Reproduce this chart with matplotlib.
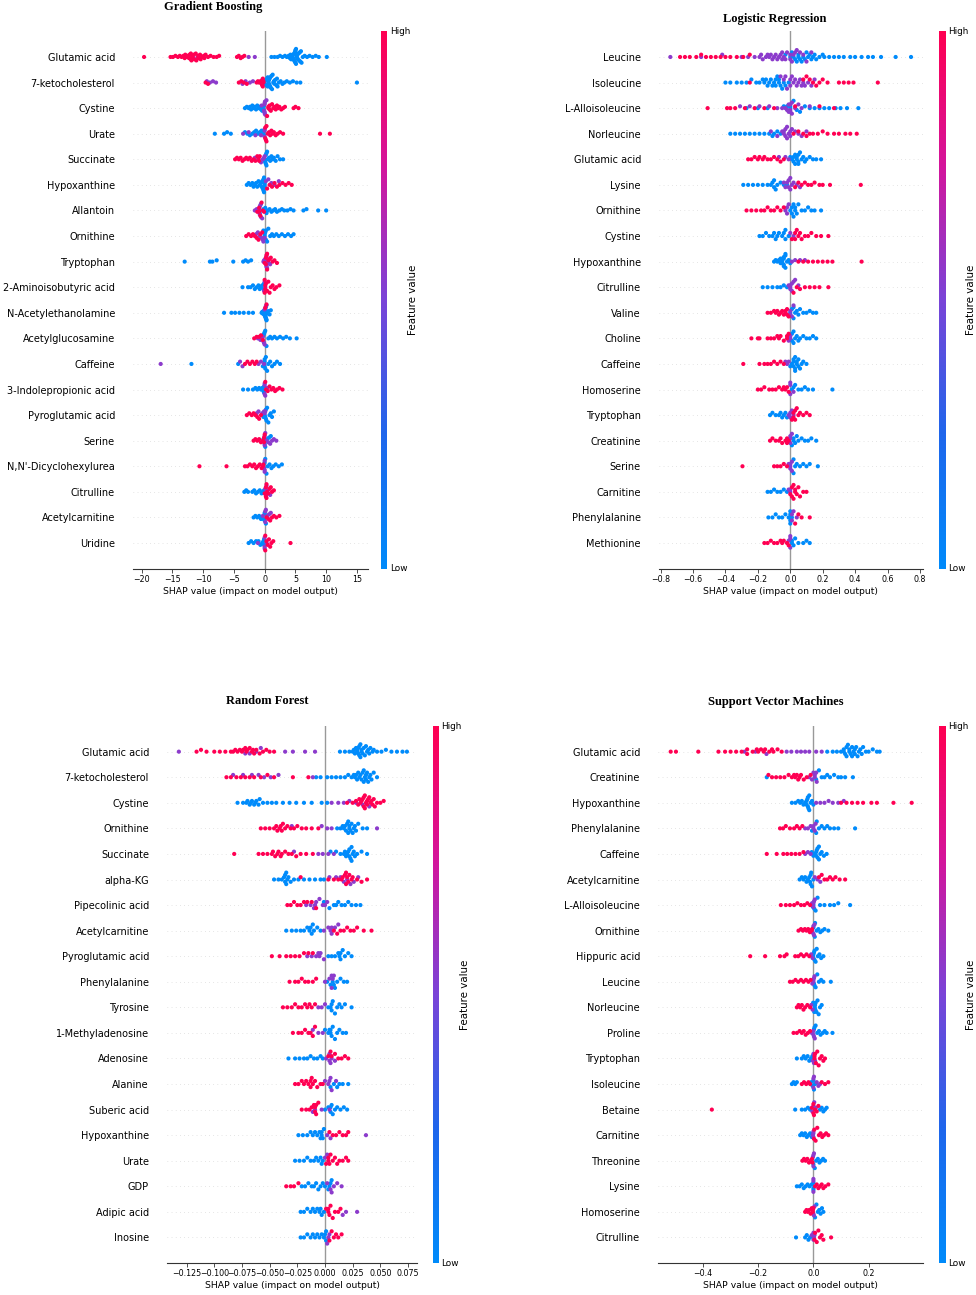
import numpy as np
import matplotlib.pyplot as plt
from matplotlib.colors import LinearSegmentedColormap

# ---------------- Gradient Boosting ----------------
gb_features = ["Glutamic acid", "7-ketocholesterol", "Cystine", "Urate", "Succinate",
               "Hypoxanthine", "Allantoin", "Ornithine", "Tryptophan", "2-Aminoisobutyric acid",
               "N-Acetylethanolamine", "Acetylglucosamine", "Caffeine", "3-Indolepropionic acid",
               "Pyroglutamic acid", "Serine", "N,N'-Dicyclohexylurea", "Citrulline",
               "Acetylcarnitine", "Uridine"]
gb_high = [
    [-19.6, -15.3, -14.9, -14.5, -14.1, -13.8, -13.5, -13.2, -12.9, -12.6, -12.3, -12.0, -11.7, -11.4,
     -11.1, -10.8, -10.5, -10.2, -9.9, -9.6, -9.2, -8.8, -8.3, -7.8, -7.4, -4.5, -4.2, -3.9, -3.6, -3.3,
     -12.0, -11.8, -11.5, -10.8, -13.0, -12.5, -12.2, -11.9, -11.2, -10.4, -9.8],
    [-9.6, -9.2, -4.2, -3.8, -3.4, -2.9, -1.3, -1.1, -0.9, -0.7, -0.5, -0.3, -0.2, -0.4, -0.3, -0.2],
    [0.4, 0.6, 0.8, 1.0, 1.2, 1.4, 1.6, 1.8, 2.0, 2.2, 2.4, 2.7, 3.0, 3.3, 4.7, 5.0, 5.5, 0.6, 0.8],
    [0.1, 0.3, 0.5, 0.7, 0.9, 1.1, 1.3, 1.5, 1.8, 2.1, 2.5, 3.0, 9.0, 10.6, 0.1, 0.2, 0.3],
    [-4.8, -4.5, -4.2, -3.9, -3.6, -3.3, -3.0, -2.7, -2.4, -2.1, -1.8, -1.5, -1.2, -0.9, -1.0, -0.8],
    [0.4, 0.8, 1.2, 1.6, 2.0, 2.4, 2.9, 3.4, 3.9, 4.4],
    [-1.2, -0.9, -0.7, -0.5, -0.3, -0.1, -0.9],
    [-3.0, -2.6, -2.2, -1.9, -1.6, -1.3, -1.0, -0.7, -0.4],
    [0.0, 0.2, 0.4, 0.6, 0.8, 1.0, 1.3, 1.6, 2.0, 0.2, 0.3, 0.4],
    [0.0, 0.2, 0.4, 0.6, 0.8, 1.0, 1.3, 1.6, 1.9, 2.4, 0.0, 0.1, 0.1],
    [0.1, 0.3],
    [-1.7, -1.3, -0.9, -0.6, -0.3],
    [-3.2, -2.8, -2.4, -2.0, -1.6, -1.3],
    [0.2, 0.5, 0.8, 1.1, 1.4, 1.7, 2.0, 2.4, 2.9, 0.1],
    [-2.9, -2.5, -2.1, -1.8, -1.5, -1.2, -0.9, -0.6],
    [-1.8, -1.5, -1.2, -0.9, -0.6, -0.3, -0.1, -0.1, 0.0],
    [-10.6, -6.2, -3.2, -2.8, -2.4, -2.0, -1.7, -1.4, -1.1, -0.8, -0.5, -0.3, -0.2],
    [0.0, 0.2, 0.4, 0.6, 0.8, 1.0, 1.2, 1.5, 0.2, 0.3, 0.3],
    [0.3, 0.6, 0.9, 1.2, 1.5, 1.9, 2.4],
    [0.1, 0.3, 0.5, 0.7, 0.9, 1.1, 1.4, 4.2, 0.1],
]
gb_mid = [
    [-11.6, -10.9, -2.6, -1.6],
    [-9.4, -8.9, -8.4, -7.9, -3.6, -3.1, -2.4, -1.9, -0.4],
    [-0.5, -0.1, 0.0, 0.1, 0.3, 0.0, 0.0, 0.0, 0.05],
    [-3.5, -2.6, -1.5, -0.6, 0.0, 0.0, 0.0],
    [-1.6, -1.0, -0.6, -0.3, -0.1, 0.0],
    [0.2, 0.6, 1.1, 1.6, 2.3],
    [-1.6, -1.3, -1.0, -0.8, -0.6, -0.4, -0.9, -0.8, -0.7],
    [-1.4, -1.1, -0.8, -0.5, -0.3, -0.2, 0.0],
    [-0.2, -0.1, 0.1, 0.3, 0.5, 0.7, 0.9, 0.3, 0.3, 0.4],
    [-0.1, 0.1, 0.0],
    [0.0, 0.2],
    [-1.1, -0.7, -0.4, -0.1, 0.0, -0.2, -0.3],
    [-16.9, -4.0, -3.6, -1.0, -0.6, -0.1],
    [0.0, 0.1, 0.4, 0.0, 0.0],
    [-1.3, -1.0, -0.4, -0.1, 0.0, 0.1],
    [0.0, 0.3, 0.6, 0.9, 1.2, 1.5, 1.9, 0.0, 0.1],
    [-0.1, 0.0, 0.0, 0.0],
    [0.1, 0.3, 0.5, 0.9, 0.2],
    [-0.3, 0.1, 0.4, 0.7, 1.0, 0.1, 0.2],
    [-1.1, 0.0, 0.3, 0.0, 0.0],
]
gb_low = [
    [1.1, 1.6, 2.1, 2.5, 2.9, 3.3, 3.6, 3.9, 4.1, 4.3, 4.5, 4.6, 4.7, 4.8, 4.9, 5.0, 5.1, 5.2, 5.3,
     5.4, 5.5, 5.7, 5.9, 6.2, 6.5, 6.9, 7.3, 7.8, 8.3, 8.8, 10.1, 4.8, 4.9, 5.0, 5.0, 5.1, 5.2,
     4.2, 4.4, 4.6, 5.3, 5.6, 5.8, 6.0],
    [0.0, 0.2, 0.3, 0.5, 0.6, 0.8, 0.9, 1.1, 1.2, 1.4, 1.5, 1.7, 1.9, 2.1, 2.3, 2.6, 2.9, 3.2, 3.6,
     4.1, 4.6, 5.2, 5.8, 15.0, 0.5, 0.6, 0.7, 0.8, 1.0, 0.4, 0.7, 0.9, 1.3, 1.6, 2.0],
    [-3.2, -2.9, -2.6, -2.4, -2.2, -2.0, -1.8, -1.6, -1.4, -1.2, -1.0, -0.8, -0.6, -0.4, -0.3, -0.2,
     -0.3, -0.1],
    [-8.1, -6.6, -6.1, -5.5, -3.2, -2.8, -2.4, -2.0, -1.7, -1.4, -1.1, -0.8, -0.5, -0.3, -0.1, -0.2],
    [0.0, 0.2, 0.3, 0.5, 0.7, 0.9, 1.1, 1.3, 1.5, 1.8, 2.1, 2.5, 3.0, 0.1, 0.2, 0.3, 0.4],
    [-2.9, -2.6, -2.3, -2.0, -1.8, -1.6, -1.4, -1.2, -1.0, -0.8, -0.6, -0.5, -0.3, -0.2, -0.1, 0.0,
     -0.1, 0.0, 0.0, -0.2, -0.4],
    [-0.2, 0.1, 0.3, 0.5, 0.8, 1.1, 1.4, 1.7, 2.0, 2.4, 2.8, 3.2, 3.7, 4.2, 4.7, 6.3, 6.8, 8.7, 10.0,
     -0.8, -0.6],
    [-0.2, 0.0, 0.2, 0.4, 0.6, 0.9, 1.2, 1.5, 1.9, 2.3, 2.8, 3.3, 3.8, 4.3, 4.7, 0.0, 0.1, 0.2],
    [-13.0, -8.9, -8.5, -7.8, -5.1, -3.5, -3.1, -2.7, -2.2],
    [-3.6, -2.7, -2.3, -1.9, -1.6, -1.3, -1.0, -0.8, -0.6, -0.4, -0.2, -0.1],
    [-6.6, -5.4, -4.8, -4.1, -3.4, -2.6, -1.9, -0.5, -0.4, -0.3, -0.2, -0.1, 0.0, 0.0, 0.1, 0.1,
     0.2, 0.3, 0.4, 0.5, 0.6, 0.8, 1.0, 0.1, 0.2, 0.3, 0.3, 0.4, 0.2],
    [-0.2, 0.1, 0.3, 0.6, 0.9, 1.2, 1.6, 2.0, 2.5, 3.0, 3.5, 4.1, 5.2, -0.1, 0.0],
    [-11.9, -4.3, -0.3, 0.0, 0.2, 0.4, 0.6, 0.9, 1.2, 1.6, 2.0, 2.5, 0.0, 0.0, 0.1],
    [-3.5, -2.7, -1.9, -1.5, -1.2, -0.9, -0.6, -0.4, -0.2, -0.1, -0.1],
    [-0.2, 0.0, 0.2, 0.4, 0.6, 0.8, 1.0, 1.2, 1.5, 0.1, 0.2, 0.3],
    [-0.2, 0.1, 0.4, 0.7, 1.0, 0.0],
    [0.1, 0.3, 0.5, 0.8, 1.1, 1.4, 1.8, 2.3, 2.8, 0.0],
    [-3.3, -3.0, -2.7, -2.0, -1.7, -1.4, -1.1, -0.8, -0.5, -0.3, -0.1],
    [-1.8, -1.5, -1.2, -0.9, -0.6, -0.4, -0.2, 0.0, 0.2, 0.0, 0.0],
    [-2.6, -2.2, -1.8, -1.4, -1.0, -0.7, -0.4, -0.2, -0.1, -0.1],
]
gb_ticks = [-20, -15, -10, -5, 0, 5, 10, 15]

# ---------------- Logistic Regression ----------------
lr_features = ["Leucine", "Isoleucine", "L-Alloisoleucine", "Norleucine", "Glutamic acid",
               "Lysine", "Ornithine", "Cystine", "Hypoxanthine", "Citrulline", "Valine",
               "Choline", "Caffeine", "Homoserine", "Tryptophan", "Creatinine", "Serine",
               "Carnitine", "Phenylalanine", "Methionine"]
lr_high = [
    [-0.68, -0.65, -0.62, -0.58, -0.55, -0.52, -0.49, -0.46, -0.43, -0.40, -0.37, -0.33, -0.29, -0.25],
    [-0.25, 0.08, 0.10, 0.12, 0.14, 0.16, 0.18, 0.20, 0.23, 0.30, 0.33, 0.36, 0.39, 0.54],
    [-0.51, -0.39, -0.37, -0.34, -0.28, -0.22, -0.16, -0.10, 0.03, 0.18, 0.27],
    [0.02, 0.05, 0.08, 0.10, 0.12, 0.14, 0.17, 0.20, 0.23, 0.27, 0.30, 0.34, 0.37, 0.41],
    [-0.26, -0.24, -0.22, -0.20, -0.19, -0.17, -0.16, -0.14, -0.12, -0.10, -0.08, -0.06, -0.04],
    [0.03, 0.05, 0.07, 0.09, 0.11, 0.13, 0.15, 0.18, 0.20, 0.245, 0.435],
    [-0.27, -0.24, -0.21, -0.18, -0.16, -0.14, -0.12, -0.10, -0.08, -0.06, -0.04],
    [0.01, 0.03, 0.05, 0.06, 0.07, 0.09, 0.11, 0.13, 0.16, 0.19, 0.235, 0.03, 0.04],
    [0.05, 0.08, 0.11, 0.14, 0.17, 0.20, 0.23, 0.26, 0.44],
    [0.02, 0.04, 0.06, 0.09, 0.12, 0.15, 0.18, 0.235],
    [-0.14, -0.12, -0.10, -0.09, -0.08, -0.07, -0.06, -0.05, -0.04, -0.03, -0.02, -0.01, -0.03, -0.02],
    [-0.24, -0.20, -0.19, -0.14, -0.12, -0.10, -0.08, -0.07, -0.06, -0.04, -0.02, -0.02, -0.01],
    [-0.29, -0.19, -0.16, -0.14, -0.12, -0.10, -0.08, -0.06, -0.04],
    [-0.20, -0.18, -0.16, -0.13, -0.11, -0.09, -0.07, -0.05, -0.04, -0.03, -0.01, -0.02],
    [0.01, 0.02, 0.03, 0.04, 0.05, 0.06, 0.08, 0.10, 0.12, 0.02, 0.03],
    [-0.125, -0.11, -0.09, -0.07, -0.06, -0.05, -0.03, -0.02, -0.01, -0.02],
    [-0.295, -0.10, -0.08, -0.06, -0.04, -0.02],
    [0.0, 0.01, 0.02, 0.03, 0.04, 0.05, 0.06, 0.08, 0.10, 0.01, 0.02, 0.03],
    [0.03, 0.05, 0.07, 0.12],
    [-0.16, -0.14, -0.12, -0.10, -0.08, -0.06, -0.05, -0.04, -0.02, -0.01],
]
lr_mid = [
    [-0.74, -0.55, -0.42, -0.30, -0.26, -0.22, -0.19, -0.17, -0.15, -0.13, -0.11, -0.09, -0.07,
     -0.05, -0.04, -0.02, 0.0, 0.02, 0.04, 0.06, 0.08, 0.10, 0.13, -0.10, -0.08, -0.05, -0.03, 0.0, 0.01,
     -0.18, -0.14, -0.12, -0.06, 0.03],
    [-0.06, -0.04, -0.02, 0.0, 0.01, 0.03, 0.05, 0.07, 0.09, 0.11, 0.13, 0.15, 0.0, 0.02, 0.04,
     -0.03, 0.06, 0.08],
    [-0.31, -0.25, -0.19, -0.13, -0.08, -0.05, -0.03, -0.02, -0.01, 0.0, 0.01, 0.03, 0.05, 0.07, 0.12,
     0.0, 0.0, -0.01, 0.01],
    [-0.12, -0.08, -0.05, -0.04, -0.03, -0.02, -0.01, 0.0, 0.01, 0.03, 0.05, 0.07, 0.10,
     -0.04, -0.03, -0.02, 0.0],
    [-0.07, -0.03, -0.01],
    [-0.04, -0.02, -0.01, 0.0, 0.01, 0.02, 0.04, 0.06, -0.03, -0.01, 0.0],
    [-0.03, -0.02, -0.01, -0.02],
    [0.0, 0.02],
    [0.01, 0.03, 0.06, 0.09],
    [-0.01, 0.0, 0.01, 0.02, 0.03, 0.05, 0.0, 0.01, 0.0],
    [0.0, 0.01, 0.02, 0.0],
    [-0.01, 0.0, 0.0],
    [-0.03, -0.02, -0.01],
    [0.0, 0.02, 0.0, 0.0],
    [-0.01, 0.0, 0.02, 0.01, 0.0],
    [0.0, 0.01, 0.0, 0.0],
    [-0.01, 0.0, 0.01, 0.0, 0.0, 0.01],
    [-0.01, 0.0, 0.0],
    [0.01, 0.02, 0.04, 0.01],
    [-0.01, 0.0, 0.0, 0.0],
]
lr_low = [
    [-0.03, 0.01, 0.03, 0.05, 0.06, 0.08, 0.09, 0.11, 0.12, 0.14, 0.16, 0.18, 0.21, 0.24, 0.27,
     0.30, 0.33, 0.37, 0.40, 0.44, 0.48, 0.51, 0.56, 0.65, 0.745, 0.05, 0.07, 0.10,
     0.0, 0.02, 0.04, 0.13, 0.15, 0.20],
    [-0.40, -0.37, -0.33, -0.30, -0.27, -0.24, -0.21, -0.19, -0.17, -0.16, -0.15, -0.14, -0.13,
     -0.11, -0.09, -0.07, -0.05, -0.03, -0.01, -0.10, -0.09, -0.08, -0.07, -0.12, -0.06, -0.04],
    [-0.27, -0.20, -0.14, -0.04, -0.02, 0.0, 0.02, 0.04, 0.06, 0.09, 0.12, 0.15, 0.18, 0.21, 0.24,
     0.28, 0.31, 0.35, 0.42, 0.0],
    [-0.37, -0.34, -0.31, -0.28, -0.25, -0.22, -0.19, -0.16, -0.13, -0.11, -0.10, -0.08, -0.06],
    [0.0, 0.01, 0.02, 0.02, 0.03, 0.04, 0.05, 0.05, 0.06, 0.07, 0.08, 0.09, 0.10, 0.12, 0.14, 0.16, 0.19,
     0.03, 0.04, 0.05],
    [-0.29, -0.26, -0.23, -0.20, -0.17, -0.14, -0.12, -0.11, -0.10, -0.09, -0.08, -0.06, -0.04, -0.02,
     -0.10],
    [0.0, 0.01, 0.02, 0.03, 0.04, 0.05, 0.07, 0.09, 0.11, 0.13, 0.15, 0.19, 0.01, 0.02, 0.03],
    [-0.19, -0.17, -0.15, -0.13, -0.11, -0.10, -0.09, -0.08, -0.07, -0.05, -0.03, -0.01, -0.04, -0.03],
    [-0.10, -0.09, -0.08, -0.07, -0.06, -0.06, -0.05, -0.05, -0.04, -0.04, -0.03, -0.03, -0.02,
     -0.01, 0.0, -0.05, -0.04, -0.03, -0.04],
    [-0.17, -0.14, -0.11, -0.08, -0.06, -0.04, -0.02],
    [0.0, 0.01, 0.02, 0.03, 0.04, 0.05, 0.06, 0.08, 0.10, 0.12, 0.14, 0.16, 0.02],
    [0.01, 0.02, 0.03, 0.04, 0.05, 0.06, 0.08, 0.10, 0.12, 0.14, 0.16, 0.01, 0.02],
    [0.0, 0.01, 0.02, 0.02, 0.03, 0.03, 0.04, 0.05, 0.06, 0.07, 0.08, 0.10, 0.02, 0.03, 0.04, 0.05],
    [0.01, 0.03, 0.05, 0.07, 0.09, 0.11, 0.14, 0.26, 0.02],
    [-0.125, -0.11, -0.09, -0.07, -0.06, -0.05, -0.04, -0.03, -0.02],
    [0.01, 0.02, 0.03, 0.04, 0.05, 0.07, 0.09, 0.11, 0.13, 0.16, 0.02],
    [0.02, 0.03, 0.04, 0.06, 0.08, 0.10, 0.12, 0.17, 0.02],
    [-0.14, -0.12, -0.10, -0.08, -0.06, -0.04, -0.02],
    [-0.135, -0.11, -0.09, -0.07, -0.05, -0.03, -0.01, 0.0, 0.0, 0.01, 0.0, 0.0],
    [0.01, 0.02, 0.03, 0.05, 0.08, 0.10, 0.12, 0.01],
]
lr_ticks = [-0.8, -0.6, -0.4, -0.2, 0.0, 0.2, 0.4, 0.6, 0.8]

# ---------------- Random Forest ----------------
rf_features = ["Glutamic acid", "7-ketocholesterol", "Cystine", "Ornithine", "Succinate",
               "alpha-KG", "Pipecolinic acid", "Acetylcarnitine", "Pyroglutamic acid",
               "Phenylalanine", "Tyrosine", "1-Methyladenosine", "Adenosine", "Alanine",
               "Suberic acid", "Hypoxanthine", "Urate", "GDP", "Adipic acid", "Inosine"]
rf_high = [
    [-0.116, -0.112, -0.107, -0.100, -0.095, -0.090, -0.085, -0.081, -0.077, -0.074, -0.071, -0.068,
     -0.065, -0.062, -0.059, -0.056, -0.053, -0.050, -0.046, -0.072, -0.066,
     -0.083, -0.079, -0.075, -0.070, -0.064],
    [-0.089, -0.085, -0.080, -0.076, -0.072, -0.068, -0.064, -0.058, -0.052, -0.046, -0.029, -0.015],
    [0.020, 0.025, 0.028, 0.031, 0.033, 0.035, 0.036, 0.038, 0.040, 0.042, 0.044, 0.047, 0.050, 0.053,
     0.034, 0.035, 0.037, 0.036, 0.038, 0.030, 0.032, 0.039, 0.041, 0.043, 0.045],
    [-0.058, -0.054, -0.050, -0.046, -0.043, -0.040, -0.038, -0.036, -0.034, -0.031, -0.028, -0.025,
     -0.021, -0.017, -0.012, -0.006, -0.044, -0.041, -0.039],
    [-0.082, -0.060, -0.056, -0.052, -0.048, -0.045, -0.042, -0.039, -0.036, -0.033, -0.030, -0.026,
     -0.022, -0.017, -0.011, -0.047, -0.043, -0.040],
    [-0.022, 0.003, 0.008, 0.012, 0.016, 0.019, 0.022, 0.025, 0.029, 0.033, 0.038, 0.019, 0.020,
     0.015, 0.018, 0.021, 0.024],
    [-0.034, -0.031, -0.028, -0.025, -0.022, -0.019, -0.016, -0.012, -0.008],
    [0.008, 0.011, 0.014, 0.017, 0.020, 0.023, 0.026, 0.029, 0.035, 0.042],
    [-0.048, -0.041, -0.035, -0.031, -0.027, -0.023, -0.019, -0.015, -0.011],
    [-0.032, -0.027, -0.024, -0.021, -0.018, -0.015, -0.011, -0.008],
    [-0.038, -0.034, -0.030, -0.027, -0.024, -0.021, -0.018, -0.016, -0.014, -0.012, -0.009],
    [-0.029, -0.024, -0.021, -0.018, -0.015, -0.013, -0.011, -0.009],
    [0.003, 0.006, 0.009, 0.012, 0.015, 0.018, 0.021, 0.005],
    [-0.027, -0.024, -0.021, -0.019, -0.017, -0.015, -0.013, -0.011, -0.009, -0.007, -0.004, -0.002,
     -0.013, -0.012],
    [-0.021, -0.017, -0.014, -0.012, -0.010, -0.009, -0.008, -0.006, -0.009, -0.008],
    [0.004, 0.007, 0.010, 0.013, 0.016, 0.019, 0.021],
    [0.001, 0.003, 0.005, 0.007, 0.009, 0.011, 0.013, 0.016, 0.019, 0.021, 0.003, 0.004],
    [-0.035, -0.031, -0.028, -0.024],
    [0.001, 0.003, 0.005, 0.007, 0.009, 0.012, 0.014, 0.003, 0.004],
    [0.004, 0.006, 0.008, 0.010, 0.012, 0.015],
]
rf_mid = [
    [-0.132, -0.072, -0.068, -0.062, -0.058, -0.036, -0.029, -0.018, -0.009],
    [-0.083, -0.074, -0.066, -0.060, -0.055, -0.049, -0.042, -0.011],
    [0.006, 0.012, 0.017, 0.022, 0.028, 0.034, 0.040],
    [-0.030, -0.003, 0.002, 0.006, 0.047],
    [-0.028, -0.006, -0.002, 0.003, 0.008],
    [0.004, 0.010, 0.014, 0.017, 0.020, 0.023, 0.026, 0.030],
    [-0.017, -0.013, -0.009, -0.005, -0.002, 0.002, -0.010, -0.008, 0.000],
    [-0.001, 0.003, 0.006, 0.009, 0.012, 0.005, 0.006],
    [-0.016, -0.012, -0.008, -0.004, -0.001, -0.006, -0.005],
    [0.000, 0.004, 0.006, 0.008, 0.006, 0.007],
    [-0.006, -0.003, 0.000],
    [-0.011, -0.006, -0.002],
    [0.001, 0.004, 0.006, 0.009, 0.004, 0.005],
    [0.000, 0.003, 0.006, 0.010, 0.004, 0.005],
    [-0.011, -0.009, -0.003, 0.004],
    [0.002, 0.005, 0.037],
    [0.000, 0.002],
    [0.002, 0.005, 0.008, 0.011, 0.015, 0.006],
    [0.016, 0.019, 0.029],
    [0.002, 0.004, 0.003],
]
rf_low = [
    [0.0135, 0.018, 0.022, 0.025, 0.027, 0.028, 0.029, 0.030, 0.031, 0.032, 0.033, 0.035, 0.037,
     0.039, 0.041, 0.044, 0.047, 0.051, 0.055, 0.060, 0.065, 0.070, 0.074,
     0.031, 0.032, 0.033, 0.034, 0.030, 0.026, 0.029, 0.036, 0.038, 0.040, 0.043],
    [-0.008, -0.004, 0.002, 0.006, 0.010, 0.014, 0.018, 0.021, 0.024, 0.027, 0.029, 0.031, 0.032,
     0.033, 0.035, 0.037, 0.039, 0.041, 0.044, 0.047, 0.035, 0.036, 0.037, 0.038, 0.034,
     0.026, 0.028, 0.030, 0.040, 0.042],
    [-0.079, -0.074, -0.071, -0.068, -0.066, -0.064, -0.062, -0.059, -0.056, -0.052, -0.048, -0.044,
     -0.038, -0.032, -0.026, -0.019, -0.012, -0.003, 0.002, -0.070, -0.067, -0.063, -0.060],
    [0.011, 0.014, 0.017, 0.019, 0.021, 0.022, 0.023, 0.025, 0.027, 0.030, 0.034, 0.038,
     0.020, 0.021, 0.022, 0.024, 0.016, 0.018, 0.026, 0.028],
    [0.005, 0.010, 0.014, 0.017, 0.019, 0.020, 0.022, 0.024, 0.026, 0.029, 0.033, 0.038,
     0.021, 0.022, 0.023, 0.024, 0.018, 0.025, 0.027],
    [-0.046, -0.042, -0.039, -0.037, -0.036, -0.035, -0.033, -0.031, -0.028, -0.024, -0.019, -0.014,
     -0.009, -0.004, -0.001, -0.036, -0.035, -0.034],
    [-0.001, 0.004, 0.008, 0.012, 0.015, 0.018, 0.021, 0.024, 0.028, 0.032, 0.010],
    [-0.035, -0.030, -0.026, -0.022, -0.019, -0.016, -0.014, -0.013, -0.010, -0.007, -0.004,
     -0.012, -0.011],
    [0.003, 0.006, 0.009, 0.012, 0.014, 0.016, 0.018, 0.021, 0.024, 0.013, 0.014],
    [0.002, 0.005, 0.007, 0.009, 0.011, 0.014, 0.017, 0.020, 0.008],
    [0.003, 0.006, 0.009, 0.011, 0.013, 0.015, 0.018, 0.024, 0.005, 0.006, 0.007],
    [0.000, 0.003, 0.005, 0.007, 0.009, 0.011, 0.013, 0.016, 0.019, 0.004, 0.005, 0.006],
    [-0.033, -0.027, -0.023, -0.019, -0.016, -0.013, -0.010, -0.007, -0.004, -0.002],
    [0.005, 0.008, 0.011, 0.013, 0.016, 0.021],
    [0.000, 0.003, 0.005, 0.007, 0.009, 0.011, 0.014, 0.017, 0.020, 0.005, 0.006],
    [-0.024, -0.020, -0.016, -0.013, -0.011, -0.009, -0.007, -0.005, -0.003, -0.001,
     -0.004, -0.003, -0.002],
    [-0.027, -0.023, -0.019, -0.016, -0.013, -0.010, -0.008, -0.006, -0.004, -0.002, -0.003],
    [-0.021, -0.018, -0.015, -0.012, -0.010, -0.008, -0.006, -0.004, -0.002, 0.000, 0.003, 0.006,
     0.004, 0.005],
    [-0.022, -0.019, -0.016, -0.013, -0.011, -0.009, -0.007, -0.005, -0.003, -0.001, -0.004],
    [-0.022, -0.019, -0.016, -0.013, -0.011, -0.009, -0.007, -0.005, -0.003, -0.001, 0.001,
     0.000, 0.001],
]
rf_ticks = [-0.125, -0.100, -0.075, -0.050, -0.025, 0.000, 0.025, 0.050, 0.075]

# ---------------- Support Vector Machines ----------------
svm_features = ["Glutamic acid", "Creatinine", "Hypoxanthine", "Phenylalanine", "Caffeine",
                "Acetylcarnitine", "L-Alloisoleucine", "Ornithine", "Hippuric acid", "Leucine",
                "Norleucine", "Proline", "Tryptophan", "Isoleucine", "Betaine", "Carnitine",
                "Threonine", "Lysine", "Homoserine", "Citrulline"]
svm_high = [
    [-0.517, -0.498, -0.417, -0.344, -0.32, -0.30, -0.28, -0.26, -0.24, -0.22, -0.205, -0.19,
     -0.175, -0.16, -0.145, -0.13, -0.115, -0.24, -0.20, -0.18, -0.15],
    [-0.163, -0.15, -0.135, -0.12, -0.105, -0.09, -0.078, -0.066, -0.055, -0.045, -0.035, -0.024,
     -0.01, -0.07, -0.06, -0.05],
    [0.10, 0.12, 0.14, 0.16, 0.18, 0.21, 0.23, 0.29, 0.356],
    [-0.121, -0.11, -0.10, -0.085, -0.07, -0.06, -0.05, -0.04],
    [-0.169, -0.133, -0.109, -0.095, -0.08, -0.065, -0.05, -0.036],
    [0.02, 0.03, 0.04, 0.05, 0.06, 0.07, 0.08, 0.095, 0.115],
    [-0.118, -0.10, -0.085, -0.07, -0.058, -0.045, -0.033, -0.022, -0.012],
    [-0.054, -0.045, -0.038, -0.031, -0.025, -0.019, -0.013, -0.007, -0.005],
    [-0.229, -0.175, -0.121, -0.105, -0.097, -0.066, -0.055, -0.045, -0.035, -0.025, -0.015],
    [-0.085, -0.075, -0.065, -0.055, -0.045, -0.036, -0.027, -0.018, -0.01],
    [-0.06, -0.054, -0.048, -0.042, -0.036, -0.03, -0.022, -0.012],
    [-0.072, -0.06, -0.05, -0.042, -0.035, -0.028, -0.02, -0.012],
    [0.004, 0.009, 0.014, 0.019, 0.024, 0.03, 0.036, 0.042, 0.004, 0.006],
    [-0.042, -0.034, -0.026, -0.018, -0.012, 0.03, 0.042, 0.054],
    [-0.368, -0.006, 0.0, 0.006, 0.012, 0.018, 0.0, 0.002],
    [0.002, 0.008, 0.014, 0.02, 0.026, 0.032, 0.038, 0.046, 0.054, 0.003],
    [-0.04, -0.034, -0.028, -0.022, -0.016, -0.01, -0.005, -0.003],
    [0.006, 0.012, 0.018, 0.024, 0.03, 0.036, 0.043, 0.054],
    [-0.03, -0.025, -0.02, -0.015, -0.01, -0.006, -0.002, -0.002, 0.0],
    [0.006, 0.012, 0.018, 0.024, 0.03, 0.036, 0.064, 0.004],
]
svm_mid = [
    [-0.25, -0.21, -0.17, -0.097, -0.08, -0.06, -0.045, -0.03, -0.015, 0.01, 0.03],
    [-0.015, -0.005, 0.005, 0.012, 0.005, 0.0, 0.01],
    [0.01, 0.025, 0.04, 0.055, 0.07, 0.09, 0.11],
    [-0.03, -0.02, -0.01, 0.0, 0.008, 0.0, 0.005],
    [-0.03, -0.02, -0.01],
    [0.005, 0.015, 0.025],
    [-0.005, 0.0, 0.005, 0.0, 0.002],
    [-0.004, 0.0, 0.004, 0.0, 0.002],
    [-0.008, -0.003],
    [-0.004, 0.0, 0.004, 0.0, 0.002],
    [-0.008, -0.003],
    [-0.006, 0.0, 0.005, 0.0, 0.002],
    [-0.002, 0.002, 0.006, 0.0],
    [0.0, 0.012, 0.018, 0.024, 0.0, 0.002],
    [-0.004, 0.003, 0.009, 0.0],
    [-0.002, 0.0, 0.0, 0.0],
    [-0.002, 0.002, 0.0, 0.0],
    [0.0, 0.0, 0.0],
    [0.0, 0.004, 0.002],
    [-0.006, 0.0, 0.004, 0.0, 0.002],
]
svm_low = [
    [0.05, 0.07, 0.085, 0.10, 0.11, 0.12, 0.13, 0.14, 0.145, 0.15, 0.16, 0.17, 0.18, 0.19, 0.20,
     0.215, 0.23, 0.24, 0.12, 0.125, 0.13, 0.135, 0.14, 0.11, 0.115, 0.15, 0.155, 0.165, 0.175],
    [-0.169, 0.01, 0.02, 0.03, 0.04, 0.05, 0.06, 0.075, 0.09, 0.10, 0.115, 0.143],
    [-0.078, -0.065, -0.055, -0.048, -0.042, -0.036, -0.030, -0.025, -0.022, -0.020, -0.015, -0.010,
     -0.005, 0.0, -0.025, -0.02, -0.018, -0.015],
    [-0.005, 0.012, 0.02, 0.03, 0.04, 0.05, 0.06, 0.075, 0.09, 0.151, 0.01],
    [-0.006, 0.0, 0.005, 0.01, 0.015, 0.02, 0.025, 0.03, 0.038, 0.048, 0.01, 0.012, 0.015, 0.02],
    [-0.05, -0.042, -0.036, -0.03, -0.025, -0.02, -0.015, -0.01, -0.005, 0.0, -0.012, -0.01, -0.008],
    [-0.002, 0.003, 0.008, 0.015, 0.024, 0.04, 0.06, 0.075, 0.09, 0.133, 0.0],
    [0.0, 0.006, 0.012, 0.018, 0.025, 0.032, 0.04, 0.054, 0.005],
    [-0.002, 0.0, 0.004, 0.008, 0.012, 0.016, 0.022, 0.028, 0.036, 0.0, 0.002, 0.004],
    [0.002, 0.008, 0.014, 0.02, 0.028, 0.036, 0.063, 0.004],
    [-0.001, 0.003, 0.007, 0.011, 0.015, 0.019, 0.024, 0.03, 0.005, 0.006, 0.008],
    [0.002, 0.008, 0.014, 0.02, 0.026, 0.034, 0.041, 0.048, 0.069, 0.004],
    [-0.06, -0.042, -0.035, -0.028, -0.021, -0.015, -0.009, -0.004],
    [-0.078, -0.072, -0.066, -0.06, -0.008, -0.003, 0.002, 0.006, 0.0],
    [-0.066, -0.042, -0.03, -0.02, -0.012, 0.024, 0.03, 0.036, 0.042, 0.048],
    [-0.048, -0.042, -0.036, -0.03, -0.024, -0.018, -0.012, -0.006],
    [0.0, 0.005, 0.01, 0.016, 0.022, 0.028, 0.035, 0.042],
    [-0.06, -0.05, -0.042, -0.035, -0.028, -0.021, -0.014, -0.006, 0.0, 0.0, 0.0],
    [0.006, 0.011, 0.016, 0.021, 0.026, 0.031, 0.036],
    [-0.063, -0.03, -0.024, -0.018, -0.012],
]
svm_ticks = [-0.4, -0.2, 0.0, 0.2]

W, H = 976, 1295
fig = plt.figure(figsize=(W / 100, H / 100), dpi=100)
cmap = LinearSegmentedColormap.from_list(
    "shap_red_blue", ["#008bfb", "#1f66ec", "#7a44d8", "#d4159c", "#ff0052"])


def rect(x0, y0, x1, y1):
    # pixel box -> figure fraction
    return [x0 / W, 1 - y1 / H, (x1 - x0) / W, (y1 - y0) / H]


def beeswarm(vals, bin_w):
    # stacking like shap.summary_plot, step capped so sparse rows stay compact
    quant = np.round((vals - vals.min()) / bin_w)
    order = np.lexsort((vals, quant))
    ys = np.zeros(len(vals))
    layer, last = 0, None
    for j in order:
        if quant[j] != last:
            layer = 0
        ys[j] = np.ceil(layer / 2) * ((layer % 2) * 2 - 1)
        layer += 1
        last = quant[j]
    return ys * min(0.9 * 0.4 / np.max(ys + 1), 0.13)


def panel(box, cbox, title, txy, features, high, mid, low, xlim, ticks):
    ax = fig.add_axes(rect(*box))
    n = len(features)
    bin_w = 5 * (xlim[1] - xlim[0]) / (box[2] - box[0])
    xs, ys, cs = [], [], []
    for i in range(n):
        vals = np.array(low[i] + mid[i] + high[i], dtype=float)
        col = [0.0] * len(low[i]) + [0.55] * len(mid[i]) + [1.0] * len(high[i])
        pos = n - 1 - i
        ax.axhline(pos, color="#cccccc", lw=0.5, dashes=(1, 5), zorder=-1)
        xs.extend(vals)
        ys.extend(pos + beeswarm(vals, bin_w))
        cs.extend(col)
    ax.scatter(xs, ys, c=cs, cmap=cmap, vmin=0, vmax=1, s=9, linewidths=0, zorder=3)
    ax.axvline(0, color="#999999", lw=1, zorder=-1)

    ax.set_xlim(xlim)
    ax.set_ylim(-1, n)
    ax.set_yticks(range(n))
    ax.set_yticklabels(features[::-1], fontsize=7.0)
    ax.tick_params(axis="y", length=0, pad=13)
    ax.set_xticks(ticks)
    ax.tick_params(axis="x", labelsize=5.7, length=3, width=0.6, pad=1.5, color="#333333")
    for s in ["top", "right", "left"]:
        ax.spines[s].set_visible(False)
    ax.spines["bottom"].set_color("#333333")
    ax.spines["bottom"].set_linewidth(0.8)
    ax.set_xlabel("SHAP value (impact on model output)", fontsize=6.7, labelpad=2)
    ax.patch.set_alpha(0)

    cax = fig.add_axes(rect(*cbox))
    cax.imshow(np.linspace(0, 1, 256)[:, None], aspect="auto", cmap=cmap, origin="lower",
               extent=[0, 1, 0, 1])
    cax.set_axis_off()
    fig.text((cbox[2] + 3) / W, 1 - cbox[1] / H, "High", fontsize=6.4, ha="left", va="center")
    fig.text((cbox[2] + 3) / W, 1 - cbox[3] / H, "Low", fontsize=6.4, ha="left", va="center")
    fig.text((cbox[2] + 26) / W, 1 - (cbox[1] + cbox[3]) / 2 / H, "Feature value",
             fontsize=7.4, rotation=90, ha="center", va="center")

    fig.text(txy[0] / W, 1 - txy[1] / H, title, ha="center", va="center",
             family="Liberation Serif", weight="bold", fontsize=9)


panel((133, 31.4, 367.7, 568.6), (381, 31.4, 387, 568.6), "Gradient Boosting", (213, 7),
      gb_features, gb_high, gb_mid, gb_low, (-21.4, 16.75), gb_ticks)
panel((659, 31.4, 922.7, 568.6), (939, 31.4, 945, 568.6), "Logistic Regression", (775, 19),
      lr_features, lr_high, lr_mid, lr_low, (-0.81, 0.817), lr_ticks)
panel((167, 726.1, 417, 1263), (433, 726.1, 438.5, 1263), "Random Forest", (267, 701),
      rf_features, rf_high, rf_mid, rf_low, (-0.1427, 0.0831), rf_ticks)
panel((658, 726.1, 923, 1263), (939, 726.1, 945, 1263), "Support Vector Machines", (776, 702),
      svm_features, svm_high, svm_mid, svm_low, (-0.563, 0.397), svm_ticks)

fig.savefig("out.png", dpi=100)
